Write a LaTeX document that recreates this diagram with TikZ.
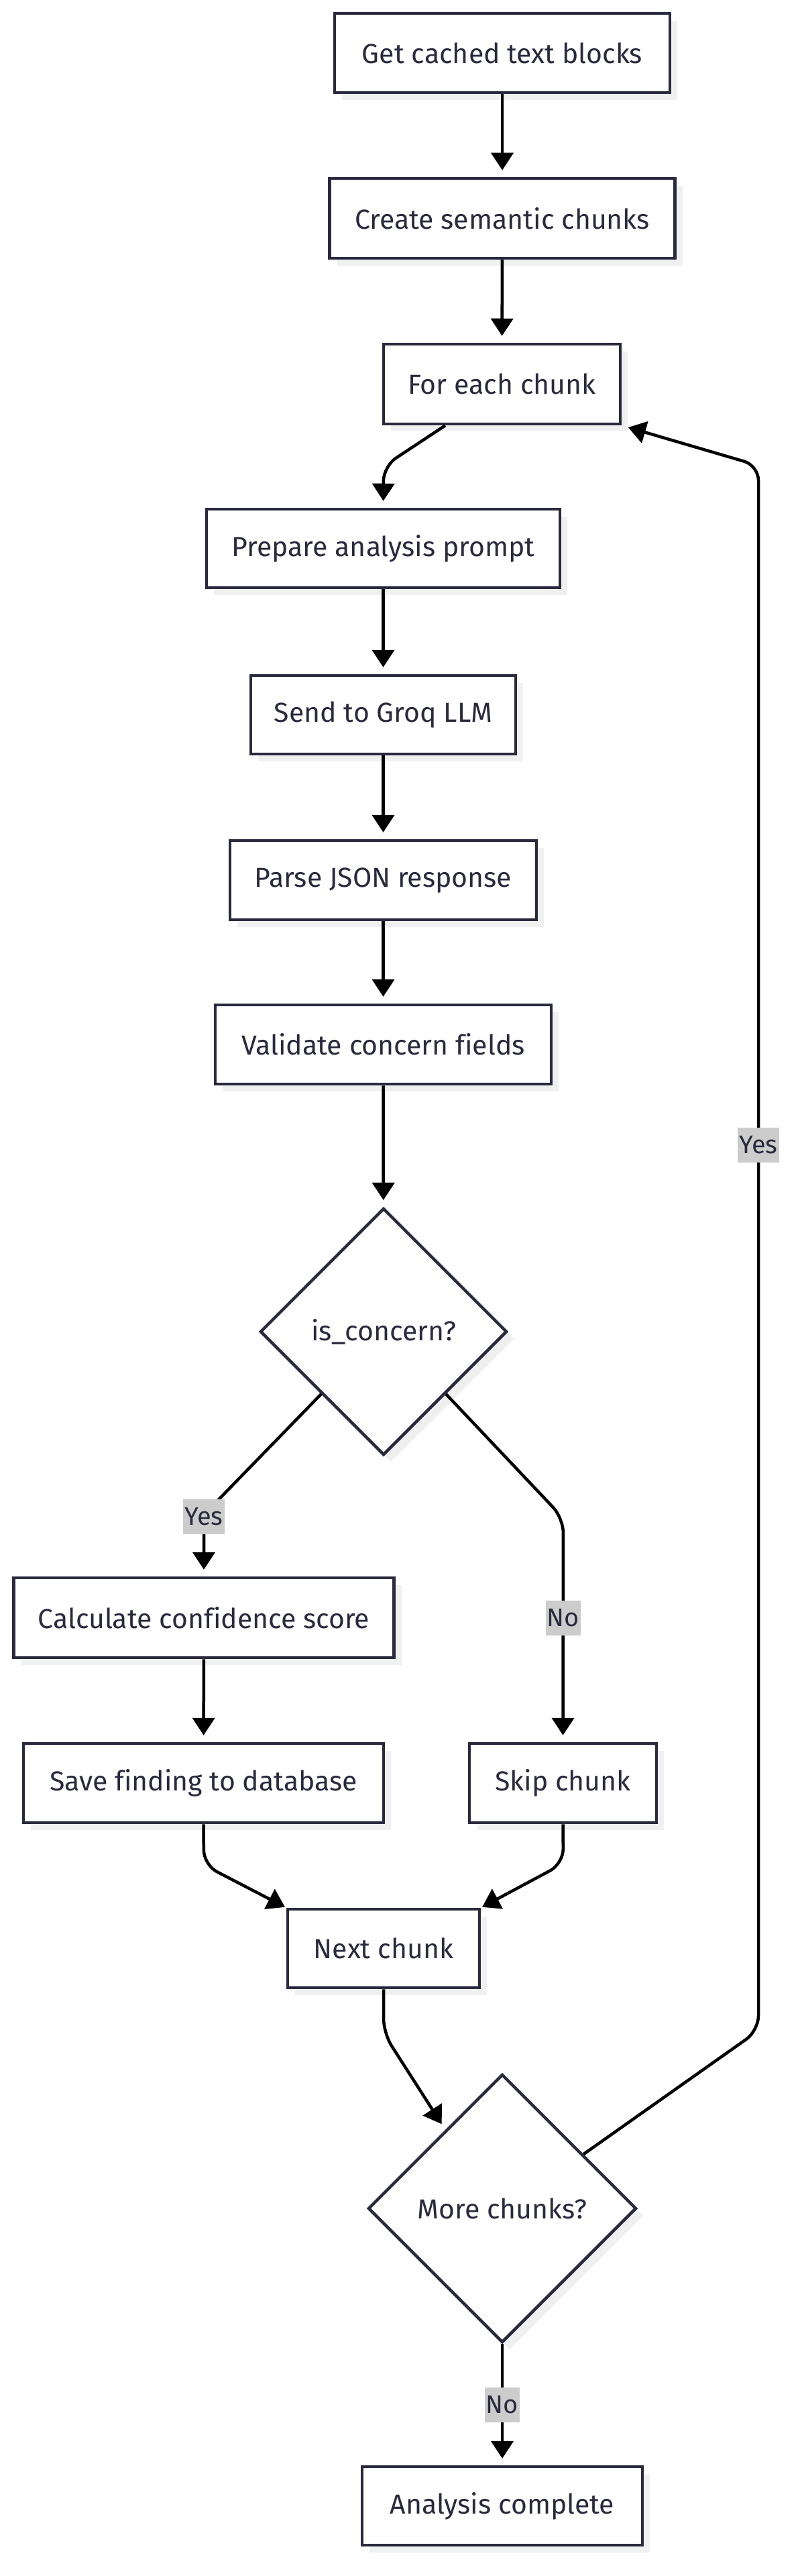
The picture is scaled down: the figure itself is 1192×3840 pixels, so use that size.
\documentclass[tikz,border=0pt]{standalone}
\usepackage{fontspec}
\setmainfont[Ligatures=NoCommon]{Fira Sans}
\usetikzlibrary{arrows.meta,shapes.geometric,shadows,calc}
\definecolor{nodecol}{RGB}{42,42,62}
\definecolor{shadowcol}{RGB}{240,240,240}
\definecolor{labelbg}{RGB}{204,204,204}
\tikzset{
  box/.style={draw=nodecol, line width=4.5pt, fill=white, text=nodecol, inner sep=0pt,
    font=\fontsize{41}{46}\selectfont,
    drop shadow={shadow xshift=11pt, shadow yshift=-11pt, fill=shadowcol, opacity=1}},
  dec/.style={box, shape=diamond, aspect=1},
  arr/.style={line width=4.5pt, draw=black, -{Triangle[length=26pt,width=33pt]}, rounded corners=22pt},
  lbl/.style={fill=labelbg, text=nodecol, font=\fontsize{38}{42}\selectfont, inner xsep=2pt, inner ysep=0pt, minimum height=52pt}
}
\begin{document}
\begin{tikzpicture}[x=1pt,y=-1pt]
\fill[white] (0,0) rectangle (1192,3840);
\useasboundingbox (0,0) rectangle (1192,3840);

% nodes
\node[box, minimum width=500pt, minimum height=118pt] (get) at (749,79) {Get cached text blocks};
\node[box, minimum width=515pt, minimum height=119pt] (sem) at (749,325.5) {Create semantic chunks};
\node[box, minimum width=353pt, minimum height=119pt] (each) at (748.5,572.5) {For each chunk};
\node[box, minimum width=527pt, minimum height=117pt] (prep) at (571.5,817.5) {Prepare analysis prompt};
\node[box, minimum width=395pt, minimum height=117pt] (groq) at (571.5,1065.5) {Send to Groq LLM};
\node[box, minimum width=457pt, minimum height=118pt] (parse) at (571.5,1312) {Parse JSON response};
\node[box, minimum width=501pt, minimum height=118pt] (valid) at (571.5,1557) {Validate concern fields};
\node[dec, minimum width=368pt, minimum height=368pt] (isc) at (572,1985) {is\_concern?};
\node[box, minimum width=567pt, minimum height=119pt] (calc) at (304,2411.5) {Calculate confidence score};
\node[box, minimum width=537pt, minimum height=118pt] (save) at (303.5,2658) {Save finding to database};
\node[box, minimum width=279pt, minimum height=118pt] (skip) at (839.5,2658) {Skip chunk};
\node[box, minimum width=286pt, minimum height=117pt] (next) at (572,2904.5) {Next chunk};
\node[dec, minimum width=400pt, minimum height=400pt] (more) at (749,3292) {More chunks?};
\node[box, minimum width=418pt, minimum height=117pt] (done) at (749,3735.5) {Analysis complete};

% bend points
\coordinate (b1) at (572,695);
\coordinate (b2) at (304,2258);
\coordinate (b3) at (840,2263);
\coordinate (b4) at (304,2780);
\coordinate (b5) at (840,2778);
\coordinate (b6) at (572,3031);
\coordinate (b7) at (1131,3027);
\coordinate (b8) at (1131,694);

% edges
\draw[arr, shorten >=10pt] (get) -- (sem);
\draw[arr, shorten >=10pt] (sem) -- (each);
\draw[arr, shorten >=10pt] ([xshift=-84.5pt]each.south) -- (b1) -- (prep.north);
\draw[arr, shorten >=10pt] (prep) -- (groq);
\draw[arr, shorten >=10pt] (groq) -- (parse);
\draw[arr, shorten >=10pt] (parse) -- (valid);
\draw[arr, shorten >=10pt] (valid) -- (isc);
\draw[arr, shorten >=10pt] (isc.south west) -- (b2) -- (calc.north);
\draw[arr, shorten >=10pt] (isc.south east) -- (b3) -- (skip.north);
\draw[arr, shorten >=10pt] (calc) -- (save);
\draw[arr, shorten >=2pt] (save.south) -- (b4) -- (next.north west);
\draw[arr, shorten >=2pt] (skip.south) -- (b5) -- (next.north east);
\draw[arr, shorten >=10pt] (next.south) -- (b6) -- ($(more.west)!0.58!(more.north)$);
\draw[arr, shorten >=10pt] ($(more.north)!0.6!(more.east)$) -- (b7) -- (b8) -- (each.south east);
\draw[arr, shorten >=10pt] (more) -- (done);

% edge labels
\node[lbl] (l1) at (304,2261) {Yes};
\node[lbl] (l2) at (840,2411.5) {No};
\node[lbl] (l3) at (1131,1707) {Yes};
\node[lbl] (l4) at (749,3585) {No};
\end{tikzpicture}
\end{document}
